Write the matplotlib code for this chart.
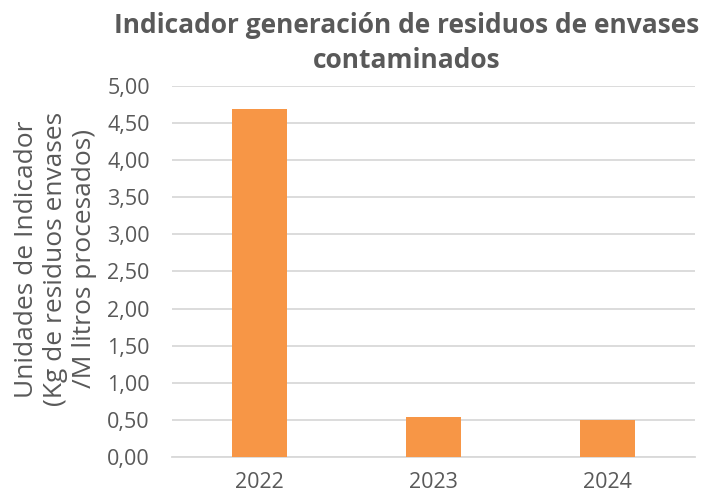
import matplotlib
matplotlib.use("Agg")
import matplotlib.pyplot as plt
from matplotlib.ticker import FuncFormatter, MultipleLocator

# Data
years = ["2022", "2023", "2024"]
values = [4.69, 0.535, 0.495]

title = "Indicador generación de residuos de envases\ncontaminados"
y_label = "Unidades de Indicador\n(Kg de residuos envases\n/M litros procesados)"

bar_color = "#F79646"
text_color = "#595959"
grid_color = "#D9D9D9"

plt.rcParams["font.family"] = ["Open Sans", "DejaVu Sans"]

fig = plt.figure(figsize=(7.04, 4.97), dpi=100)
ax = fig.add_axes([0.2443, 0.0805, 0.7429, 0.7465])

x = range(len(years))
ax.bar(x, values, width=0.315, color=bar_color, zorder=3)

ax.set_xlim(-0.5, len(years) - 0.5)
ax.set_ylim(0, 5)
ax.yaxis.set_major_locator(MultipleLocator(0.5))
ax.yaxis.set_major_formatter(FuncFormatter(lambda v, _: f"{v:.2f}".replace(".", ",")))
ax.set_xticks(list(x))
ax.set_xticklabels(years)

ax.grid(axis="y", color=grid_color, linewidth=1.3, zorder=0)
for side in ["top", "right", "left"]:
    ax.spines[side].set_visible(False)
ax.spines["bottom"].set_color(grid_color)
ax.spines["bottom"].set_linewidth(1.3)
ax.tick_params(axis="both", length=0, labelsize=15.5, colors=text_color)
ax.tick_params(axis="y", pad=16)
ax.tick_params(axis="x", pad=11)

fig.text(0.079, 0.479, y_label, rotation=90, ha="center", va="center",
         fontsize=19, color=text_color, linespacing=1.2, multialignment="center")
fig.text(0.577, 0.975, title, ha="center", va="top", fontsize=19,
         fontweight="bold", color=text_color, linespacing=1.35)

fig.savefig("out.png", dpi=100)
